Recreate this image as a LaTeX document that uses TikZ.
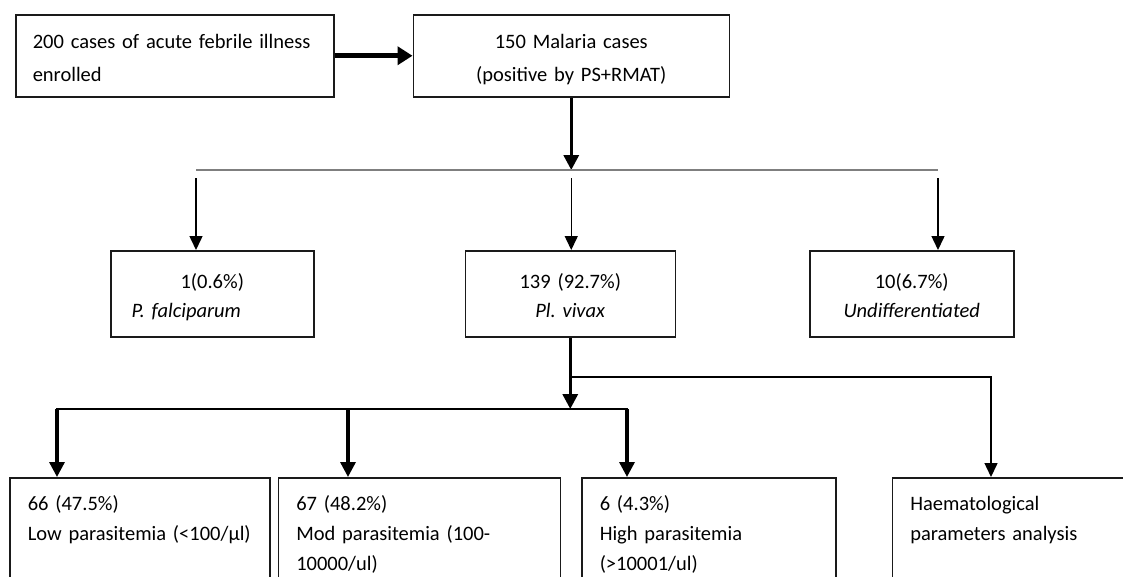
\documentclass[tikz,border=0pt]{standalone}
\usepackage{fontspec}
\setmainfont{Carlito}
\frenchspacing
\usepackage{tikz}
\usetikzlibrary{arrows.meta,positioning}
\definecolor{boxink}{HTML}{1A1A1A}
\definecolor{bargray}{HTML}{7F7F7F}
\newcommand\boxfont[1]{\fontsize{20.5}{#1}\selectfont\spaceskip=4.2pt plus 2pt minus 1pt\relax}

\begin{document}
\begin{tikzpicture}[
  x=1pt,y=-1pt,
  box/.style={draw=boxink,line width=1.5pt,inner ysep=0pt,font=\boxfont{29}},
  topbox/.style={box,text height=34pt,text depth=48pt,font=\boxfont{33}},
  midbox/.style={box,align=center,inner xsep=8pt,text height=38pt,text depth=48pt},
  lowbox/.style={box,align=left,inner xsep=18pt,text height=33pt,text depth=140pt,
    font=\boxfont{30}},
  thinarrow/.style={line width=1.5pt,-{Triangle[length=14pt,width=13pt]}},
  fatarrow/.style={line width=3.3pt,-{Triangle[length=15pt,width=15pt]}}
]
  \useasboundingbox (0,0) rectangle (1123,576);
  \clip (0,0) rectangle (1123,576);

  % first row
  \node[topbox,align=left,inner xsep=17pt,text width=284pt,anchor=north west] (enrol) at (15,14)
    {200 cases of acute febrile illness\\enrolled};
  \node[topbox,align=center,inner xsep=10pt,text width=296pt,right=78pt of enrol] (malaria)
    {150 Malaria cases\\(positive by PS+RMAT)};

  % species
  \node[midbox,text width=187pt,anchor=north west] (falci) at (110,250)
    {1(0.6\%)\\\textit{P. falciparum}\kern52pt};
  \node[midbox,text width=194pt,right=150pt of falci] (vivax)
    {139 (92.7\%)\\\textit{Pl. vivax}};
  \node[midbox,text width=188pt,right=133pt of vivax] (undiff)
    {10(6.7\%)\\\textit{Undifferentiated}};

  % parasitemia
  \node[lowbox,text width=224pt,anchor=north west] (low) at (9,477)
    {66 (47.5\%)\\Low parasitemia (<100/µl)};
  \node[lowbox,text width=246pt,right=7pt of low] (moder)
    {67 (48.2\%)\\Mod parasitemia (100-\\10000/ul)};
  \node[lowbox,text width=218pt,right=20pt of moder] (high)
    {6 (4.3\%)\\High parasitemia\\(>10001/ul)};
  \node[lowbox,text width=224pt,right=55pt of high] (haem)
    {Haematological\\parameters analysis};

  \coordinate (barL) at (196,170);
  \coordinate (barR) at (938,170);
  \coordinate (split) at (barL -| malaria.south);
  \coordinate (lowtap) at (57,409);
  \coordinate (modtap) at (348,409);
  \coordinate (hightap) at (627,409);
  \coordinate (hub) at (lowtap -| vivax.south);
  \coordinate (haemtap) at (991,377);
  \coordinate (branch) at (haemtap -| vivax.south);

  \draw[line width=5pt,-{Triangle[length=15pt,width=18pt]}] (enrol) -- (malaria);
  \draw[fatarrow] (malaria) -- (split);
  \draw[bargray,line width=2pt] (barL) -- (barR);
  \foreach \tap/\dest in {barL/falci,split/vivax,barR/undiff}
    \draw[thinarrow] ([yshift=-8pt]\tap) -- (\tap |- \dest.north);

  \draw[fatarrow] (vivax) -- (hub);
  \draw[line width=2.2pt,line cap=rect] (lowtap) -- (hightap);
  \foreach \tap/\dest in {lowtap/low,modtap/moder,hightap/high}
    \draw[fatarrow] (\tap) -- (\tap |- \dest.north);
  \draw[thinarrow] (branch) -- (haemtap) -- (haemtap |- haem.north);
\end{tikzpicture}
\end{document}
